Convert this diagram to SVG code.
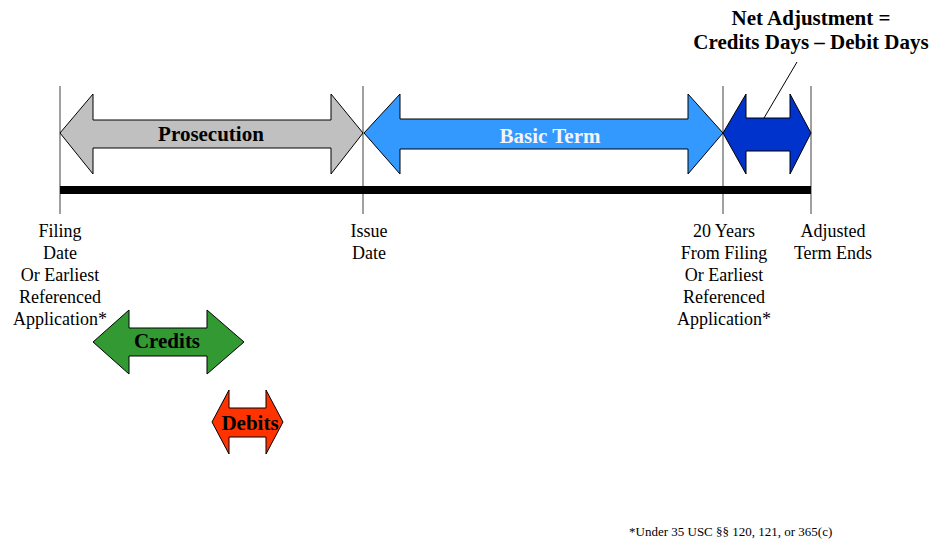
<svg xmlns="http://www.w3.org/2000/svg" width="935" height="541" viewBox="0 0 935 541">
<style>
.tick{stroke:#808080;stroke-width:1.5;fill:none}
.arr{stroke:#000;stroke-width:1}
.big{font-family:"Liberation Serif","Times New Roman",serif;font-weight:bold;font-size:21px;text-anchor:middle}
.lbl{font-family:"Liberation Serif","Times New Roman",serif;font-size:18px;text-anchor:middle;fill:#000}
.note{font-family:"Liberation Serif","Times New Roman",serif;font-size:13px;fill:#000}
</style>
<rect width="935" height="541" fill="#fff"/>
<g id="timeline">
<line class="tick" x1="60" y1="86" x2="60" y2="214"/>
<line class="tick" x1="363" y1="86" x2="363" y2="214"/>
<line class="tick" x1="723" y1="86" x2="723" y2="214"/>
<line class="tick" x1="811" y1="86" x2="811" y2="214"/>
<rect x="60" y="186" width="751" height="8" fill="#000"/>
</g>
<g id="prosecution">
<polygon class="arr" fill="#c0c0c0" points="60,133 93,94 93,120 331,120 331,94 363,133 331,174 331,148 93,148 93,174"/>
<text class="big" x="211" y="141" fill="#000">Prosecution</text>
</g>
<g id="basic-term">
<polygon class="arr" fill="#3399ff" points="364,133 400,94 400,119 688,119 688,94 723,133 688,174 688,149 400,149 400,174"/>
<text class="big" x="550" y="143" fill="#f4f4f4">Basic Term</text>
</g>
<g id="net-adjustment">
<polygon class="arr" fill="#0033cc" points="723,133 746,94 746,118 790,118 790,94 811,133 790,174 790,151 746,151 746,174"/>
</g>
<g id="net-adjustment-label">
<text class="big" x="811" y="25" fill="#000">Net Adjustment =</text>
<text class="big" x="811" y="49" fill="#000">Credits Days – Debit Days</text>
</g>
<g id="connectors">
<line x1="764" y1="118" x2="797" y2="62" stroke="#000" stroke-width="1"/>
</g>
<g id="filing-label">
<text class="lbl" x="60" y="237">Filing</text>
<text class="lbl" x="60" y="259">Date</text>
<text class="lbl" x="60" y="281">Or Earliest</text>
<text class="lbl" x="60" y="303">Referenced</text>
<text class="lbl" x="60" y="325">Application*</text>
</g>
<g id="issue-label">
<text class="lbl" x="369" y="237">Issue</text>
<text class="lbl" x="369" y="259">Date</text>
</g>
<g id="twenty-years-label">
<text class="lbl" x="724" y="237">20 Years</text>
<text class="lbl" x="724" y="259">From Filing</text>
<text class="lbl" x="724" y="281">Or Earliest</text>
<text class="lbl" x="724" y="303">Referenced</text>
<text class="lbl" x="724" y="325">Application*</text>
</g>
<g id="adjusted-label">
<text class="lbl" x="833" y="237">Adjusted</text>
<text class="lbl" x="833" y="259">Term Ends</text>
</g>
<g id="credits">
<polygon class="arr" fill="#339933" points="93,342 129,310 129,328 207,328 207,310 244,342 207,374 207,356 129,356 129,374"/>
<text class="big" x="167" y="348" fill="#000">Credits</text>
</g>
<g id="debits">
<polygon class="arr" fill="#ff3300" points="212,422 229,390 229,408 266,408 266,390 283,422 266,454 266,437 229,437 229,454"/>
<text class="big" x="250" y="430" fill="#000">Debits</text>
</g>
<g id="footnote">
<text class="note" x="629" y="536">*Under 35 USC §§ 120, 121, or 365(c)</text>
</g>
</svg>
